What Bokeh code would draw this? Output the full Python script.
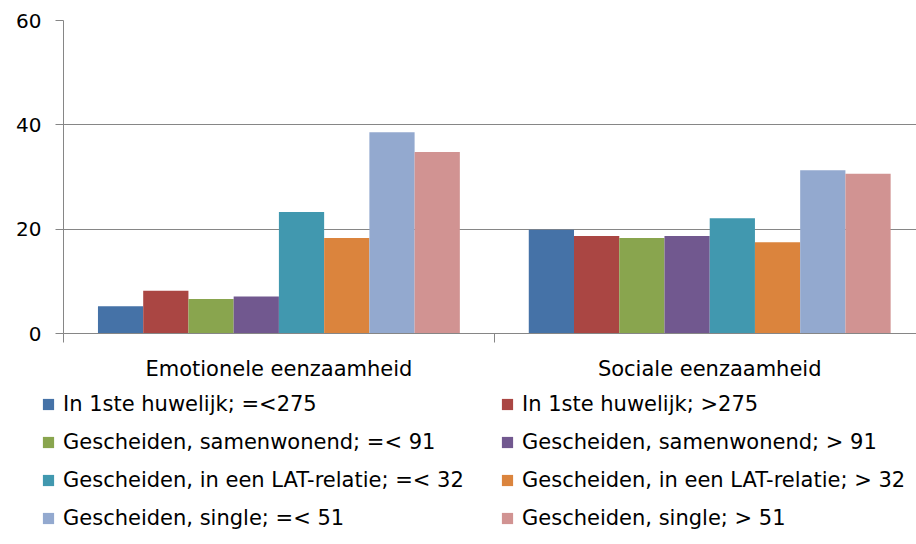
import numpy as np
from bokeh.plotting import figure
from bokeh.layouts import column, row
from bokeh.models import (Range1d, LinearAxis, FixedTicker, Legend, LegendItem,
                          ColumnDataSource, Grid)
from bokeh.embed import file_html
from bokeh.resources import INLINE

categories = ["Emotionele eenzaamheid", "Sociale eenzaamheid"]
series_names = [
    "In 1ste huwelijk; =<275",
    "In 1ste huwelijk; >275",
    "Gescheiden, samenwonend; =< 91",
    "Gescheiden, samenwonend; > 91",
    "Gescheiden, in een LAT-relatie; =< 32",
    "Gescheiden, in een LAT-relatie; > 32",
    "Gescheiden, single; =< 51",
    "Gescheiden, single; > 51",
]
emotionele = [5.2, 8.2, 6.6, 7.1, 23.3, 18.3, 38.6, 34.8]
sociale = [19.9, 18.7, 18.3, 18.7, 22.1, 17.5, 31.3, 30.6]
colors = ["#4572A7", "#AA4643", "#89A54E", "#71588F",
          "#4198AF", "#DB843D", "#93A9CF", "#D19392"]
y_ticks = [0, 20, 40, 60]

FONT = "DejaVu Sans"
FS = "21px"
group_width = 0.84
bar_w = group_width / len(series_names)

p = figure(width=916, height=388, output_backend="svg",
           toolbar_location=None, x_axis_type=None, y_axis_type=None,
           x_range=Range1d(0, 1.98), y_range=Range1d(0, 60),
           min_border_left=63, min_border_right=0, min_border_top=20,
           min_border_bottom=55)
p.outline_line_color = None
p.background_fill_color = "white"

values = np.array([emotionele, sociale])  # shape (cat, series)
cat_centers = np.arange(len(categories)) + 0.5
sources = []
for i, name in enumerate(series_names):
    xs = cat_centers + (i - (len(series_names) - 1) / 2) * bar_w
    src = ColumnDataSource(dict(x=xs, top=values[:, i]))
    sources.append(src)
    p.vbar(x="x", top="top", bottom=0, width=bar_w, source=src,
           fill_color=colors[i], line_color=None)

# y axis
yax = LinearAxis(ticker=FixedTicker(ticks=y_ticks, minor_ticks=[]))
yax.axis_line_color = "#868686"
yax.major_tick_line_color = "#868686"
yax.major_tick_out = 8
yax.major_tick_in = 0
yax.major_label_standoff = 14
yax.major_label_text_font = FONT
yax.major_label_text_font_size = "20px"
yax.major_label_text_color = "#000000"
p.add_layout(yax, "left")

# x axis: labels at centres, ticks at boundaries (minor)
xax = LinearAxis(ticker=FixedTicker(ticks=list(cat_centers), minor_ticks=[0, 1, 2]))
xax.major_label_overrides = {float(c): categories[k] for k, c in enumerate(cat_centers)}
xax.axis_line_color = "#868686"
xax.major_tick_line_color = None
xax.major_tick_out = 0
xax.major_tick_in = 0
xax.minor_tick_line_color = "#868686"
xax.minor_tick_out = 9
xax.minor_tick_in = 0
xax.major_label_standoff = 14
xax.major_label_text_font = FONT
xax.major_label_text_font_size = FS
xax.major_label_text_color = "#000000"
p.add_layout(xax, "below")

p.ygrid.visible = False
p.xgrid.visible = False
grid = Grid(dimension=1, ticker=yax.ticker, grid_line_color="#868686", grid_line_width=1)
p.add_layout(grid)

# legend figure: same series renderers, viewed through a range that shows no bars,
# so only the legend swatches and labels appear
pl = figure(width=916, height=156, output_backend="svg", toolbar_location=None,
            x_axis_type=None, y_axis_type=None, x_range=Range1d(-3, -2),
            y_range=Range1d(0, 60), min_border=0, min_border_left=0,
            min_border_right=0, min_border_top=0, min_border_bottom=0)
pl.outline_line_color = None
pl.xgrid.visible = False
pl.ygrid.visible = False
renderers = []
for i, name in enumerate(series_names):
    r = pl.vbar(x="x", top="top", bottom=0, width=bar_w, source=sources[i],
                fill_color=colors[i], line_color=None)
    renderers.append(r)


def make_legend(idx, x_loc):
    lg = Legend(items=[LegendItem(label=series_names[k], renderers=[renderers[k]])
                       for k in idx])
    lg.label_text_font = FONT
    lg.label_text_font_size = FS
    lg.label_text_color = "#000000"
    lg.glyph_width = 14
    lg.glyph_height = 14
    lg.label_standoff = 8
    lg.label_height = 25
    lg.spacing = 13
    lg.padding = 0
    lg.margin = 0
    lg.border_line_color = None
    lg.background_fill_alpha = 0
    lg.location = (x_loc, 14)
    return lg


pl.add_layout(make_legend([0, 2, 4, 6], 41), "center")
pl.add_layout(make_legend([1, 3, 5, 7], 500), "center")

layout = column(p, row(pl, spacing=0), spacing=0)
open("out.html", "w").write(file_html(layout, INLINE))
